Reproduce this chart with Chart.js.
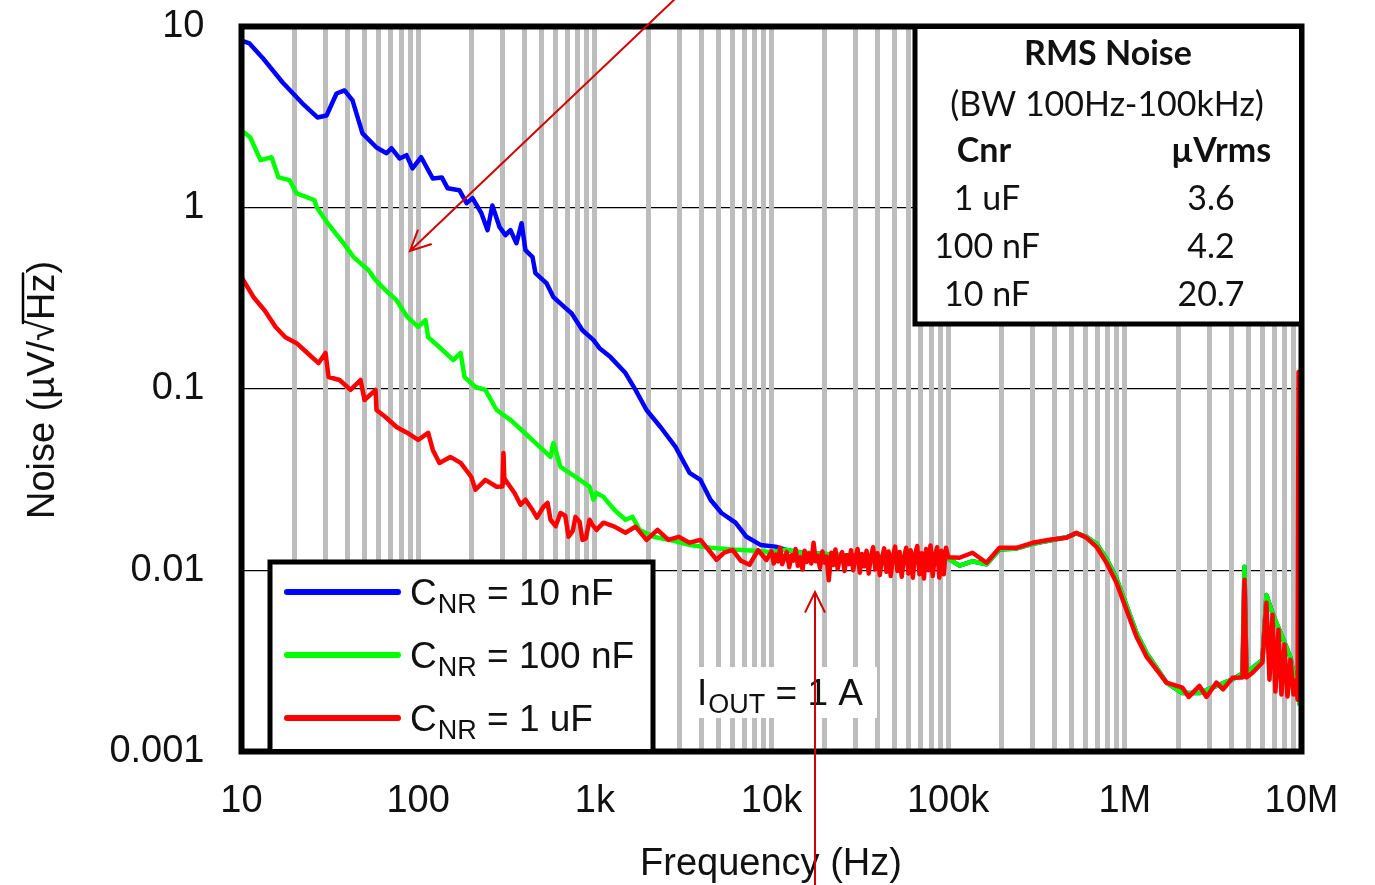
<!DOCTYPE html>
<html>
<head>
<meta charset="utf-8">
<script src="https://cdn.jsdelivr.net/npm/chart.js@4.4.1/dist/chart.umd.min.js"></script>
<style>
  html, body { margin: 0; padding: 0; background: #fff; }
  #wrap { width: 1375px; height: 885px; position: relative; }
</style>
</head>
<body>
<div id="wrap"><canvas id="noise-chart"></canvas></div>
<script>
// Axis ticks
const xTickValues = [10, 100, 1e3, 1e4, 1e5, 1e6, 1e7];
const xTickLabels = ['10', '100', '1k', '10k', '100k', '1M', '10M'];
const yTickValues = [0.001, 0.01, 0.1, 1, 10];
const yTickLabels = ['0.001', '0.01', '0.1', '1', '10'];

// C_NR = 10 nF (low frequency part)
const blueFreq = [10, 11.1, 13.1, 17.1, 22.1, 26.9, 30.3, 34.5, 38.3, 42.5, 48.4, 58.1, 66.2, 70.6, 78.4, 85.9, 92.9, 104, 121, 136,
    147, 171, 188, 203, 228, 247, 263, 289, 312, 333, 360, 385, 405, 444, 461, 532, 583, 673, 738, 851,
    983, 1063, 1226, 1491, 1699, 1961, 2353, 2862, 3435, 3963, 4516, 5212, 6256, 7220, 8663, 10530];
const blueNoise = [8.37, 8.06, 6.75, 4.91, 3.77, 3.15, 3.23, 4.27, 4.44, 3.91, 2.57, 2.15, 2.00, 2.13, 1.87, 1.95, 1.65, 1.90, 1.45, 1.47,
    1.28, 1.25, 1.06, 1.13, 0.933, 0.752, 1.03, 0.781, 0.706, 0.752, 0.637, 0.822, 0.583, 0.534, 0.436, 0.384, 0.321, 0.283, 0.262, 0.211,
    0.186, 0.168, 0.150, 0.1225, 0.0988, 0.0766, 0.0617, 0.0479, 0.0345, 0.0315, 0.0245, 0.0207, 0.0183, 0.0153, 0.0138, 0.0135];

// C_NR = 100 nF (low frequency part)
const greenFreq = [10, 11.2, 12.8, 14.8, 16.2, 18.7, 20.5, 23.6, 25.9, 26.6, 29.9, 34.0, 37.8, 43.1, 52.4, 57.4, 65.3, 75.4, 87.0, 100,
    110, 114, 132, 158, 174, 183, 211, 240, 278, 333, 385, 461, 561, 583, 639, 777, 933, 983, 1022, 1119,
    1292, 1491, 1634, 1790, 2148, 2646, 3435, 4500, 6000, 8000, 10000];
const greenNoise = [2.67, 2.45, 1.83, 1.90, 1.47, 1.42, 1.20, 1.14, 1.10, 1.01, 0.853, 0.724, 0.637, 0.534, 0.452, 0.399, 0.351, 0.309, 0.249, 0.220,
    0.240, 0.193, 0.170, 0.1445, 0.158, 0.1164, 0.1026, 0.0988, 0.0766, 0.0675, 0.0594, 0.0504, 0.0422, 0.0504, 0.0372, 0.0327, 0.0289, 0.0245, 0.0267, 0.0254,
    0.0215, 0.0190, 0.0197, 0.0167, 0.0153, 0.0147, 0.0138, 0.0133, 0.0130, 0.0128, 0.0126];

// 10 nF and 100 nF overlap above ~10 kHz
const sharedFreq = [12000, 15000, 20000, 30000, 50000, 80000, 100000, 116000, 137000, 165000,
    195000, 244000, 300000, 375000, 467000, 532000, 607000, 691000, 787000, 897000,
    1021000, 1164000, 1326000, 1511000, 1721000, 2120000, 2645000, 3301000, 4068000, 4635000,
    4755000, 4880000, 5280000, 6010000, 6330000, 6850000, 7410000, 8010000, 8660000, 9370000, 9800000];
const sharedNoise = [0.0130, 0.0125, 0.0123, 0.0120, 0.0118, 0.0117, 0.0116, 0.0106, 0.0112, 0.0108,
    0.0130, 0.0132, 0.0140, 0.0146, 0.0152, 0.0160, 0.0153, 0.0140, 0.0116, 0.0090,
    0.0064, 0.0045, 0.0035, 0.0029, 0.0024, 0.0021, 0.0021, 0.0023, 0.0025, 0.0027,
    0.01045, 0.0027, 0.0029, 0.0032, 0.0073, 0.0058, 0.0048, 0.0040, 0.0033, 0.0022, 0.0018];

// C_NR = 1 uF
const redLowFreq = [10, 11.7, 13.5, 15.6, 17.7, 20.5, 23.6, 27.3, 29.9, 31.1, 35.9, 41.4, 47.2, 49.7, 57.4, 58.1, 65.3, 75.4, 87.0, 100,
    114, 121, 132, 152, 174, 200, 211, 240, 278, 300, 304, 308, 312, 351, 380, 405, 444, 470, 512, 540,
    561, 600, 639, 680, 710, 750, 777, 820, 851, 890, 933, 970, 1022, 1119, 1292, 1491, 1699, 1961, 2263, 2612,
    2977, 3435, 3963, 4884, 5400, 6016, 6700, 7505, 8400, 9367];
const redLowNoise = [0.414, 0.321, 0.272, 0.220, 0.193, 0.179, 0.158, 0.139, 0.158, 0.1164, 0.1121, 0.0988, 0.1121, 0.0870, 0.0988, 0.0766, 0.0701, 0.0617, 0.0572, 0.0524,
    0.0572, 0.0461, 0.0391, 0.0422, 0.0391, 0.0327, 0.0278, 0.0315, 0.0289, 0.0290, 0.0444, 0.0305, 0.0315, 0.0267, 0.0230, 0.0245, 0.0215, 0.0195, 0.0224, 0.0235,
    0.0190, 0.0175, 0.0207, 0.0200, 0.0153, 0.0165, 0.0197, 0.0185, 0.0147, 0.0150, 0.0190, 0.0178, 0.0167, 0.0183, 0.0174, 0.0161, 0.0174, 0.0147, 0.0167, 0.0147,
    0.0153, 0.0142, 0.0147, 0.01143, 0.0125, 0.01297, 0.0113, 0.01072, 0.0129, 0.0114];
const redMidFreq = [10000, 10300, 10600, 10900, 11200, 11500, 11900, 12200, 12600, 13000,
    13300, 13700, 14100, 14500, 15000, 15400, 15800, 16300, 16800, 17300,
    17800, 18300, 18800, 19400, 20000, 20500, 21100, 21800, 22400, 23000,
    23700, 24400, 25100, 25900, 26600, 27400, 28200, 29000, 29900, 30700,
    31600, 32500, 33500, 34500, 35500, 36500, 37600, 38700, 39800, 41000,
    42200, 43400, 44700, 46000, 47300, 48700, 50100, 51600, 53100, 54600,
    56200, 57900, 59600, 61300, 63100, 64900, 66800, 68800, 70800, 72900,
    75000, 77200, 79400, 81800, 84100, 86600, 89100, 91700, 94400, 97200, 100000];
const redMidNoise = [0.0127, 0.0109, 0.0122, 0.0112, 0.0133, 0.0108, 0.0119, 0.0126, 0.0104, 0.0121,
    0.0113, 0.0131, 0.0106, 0.0118, 0.0101, 0.0128, 0.0111, 0.0124, 0.0109, 0.0142,
    0.0112, 0.0120, 0.0103, 0.0127, 0.0110, 0.0119, 0.0088, 0.0125, 0.0107, 0.0130,
    0.0102, 0.0117, 0.0126, 0.0099, 0.0121, 0.0108, 0.0129, 0.0100, 0.0118, 0.0131,
    0.0097, 0.0123, 0.0105, 0.0128, 0.0096, 0.0119, 0.0134, 0.0101, 0.0124, 0.0094,
    0.0116, 0.0132, 0.0098, 0.0127, 0.0093, 0.0120, 0.0135, 0.0099, 0.0126, 0.0092,
    0.0118, 0.0133, 0.0096, 0.0129, 0.0091, 0.0122, 0.0136, 0.0095, 0.0124, 0.0090,
    0.0131, 0.0100, 0.0137, 0.0093, 0.0121, 0.0134, 0.0091, 0.0128, 0.0095, 0.0133, 0.0118];
const redHighFreq = [115900, 137300, 164800, 195300, 243700, 300200, 374600, 467400, 532400, 606700, 691000, 787300, 896900,
    1021000, 1164000, 1326000, 1511000, 1721000, 2120000, 2300000, 2645000, 2900000, 3301000, 3600000, 4068000, 4635000, 4755000, 4880000,
    5280000, 6010000, 6330000, 6590000, 6850000, 7120000, 7410000, 7700000, 8010000, 8330000, 8660000, 9010000, 9370000, 9500000, 9620000, 9750000];
const redHighNoise = [0.01172, 0.01249, 0.0110, 0.0133, 0.0133, 0.01417, 0.01472, 0.0151, 0.0161, 0.0151, 0.01347, 0.0110, 0.00853,
    0.00606, 0.0043, 0.00334, 0.00283, 0.0024, 0.00225, 0.0020, 0.0023, 0.0020, 0.0024, 0.0022, 0.00255, 0.00256, 0.00886, 0.00256,
    0.00272, 0.0031, 0.00662, 0.00249, 0.00568, 0.00214, 0.0047, 0.00206, 0.00389, 0.00201, 0.00321, 0.00206, 0.00249, 0.00193, 0.124, 0.03];

// grid lines at 1..9 x each decade
const xGridValues = [];
for (let d = 10; d < 1e7; d *= 10) {
    for (let m = 1; m < 10; m++) xGridValues.push(m * d);
}
xGridValues.push(1e7);

function toPoints(freqs, values) {
    return freqs.map((f, i) => ({ x: f, y: values[i] }));
}

const bluePoints = toPoints(blueFreq.concat(sharedFreq), blueNoise.concat(sharedNoise));
const greenPoints = toPoints(greenFreq.concat(sharedFreq), greenNoise.concat(sharedNoise));
const redPoints = toPoints(redLowFreq.concat(redMidFreq, redHighFreq), redLowNoise.concat(redMidNoise, redHighNoise));

const RED_ARROW = '#d40000';
const SANS = '"Liberation Sans", Arial, sans-serif';
const BOX_FONT = 'Lato, "Open Sans", sans-serif';

function drawArrow(ctx, x1, y1, x2, y2) {
    const ang = Math.atan2(y1 - y2, x1 - x2);
    ctx.beginPath();
    ctx.moveTo(x1, y1);
    ctx.lineTo(x2, y2);
    ctx.moveTo(x2 + 22 * Math.cos(ang - 0.45), y2 + 22 * Math.sin(ang - 0.45));
    ctx.lineTo(x2, y2);
    ctx.lineTo(x2 + 22 * Math.cos(ang + 0.45), y2 + 22 * Math.sin(ang + 0.45));
    ctx.stroke();
}

// C + subscript + rest
function drawSubText(ctx, x, y, main, sub, rest, size, subSize) {
    ctx.textAlign = 'left';
    ctx.font = size + 'px ' + SANS;
    ctx.fillText(main, x, y);
    x += ctx.measureText(main).width + 1;
    ctx.font = subSize + 'px ' + SANS;
    ctx.fillText(sub, x, y + 8);
    x += ctx.measureText(sub).width;
    ctx.font = size + 'px ' + SANS;
    ctx.fillText(rest, x, y);
}

const overlay = {
    id: 'overlay',
    afterDraw(chart) {
        const ctx = chart.ctx;
        const a = chart.chartArea;
        ctx.save();

        // plot frame
        ctx.strokeStyle = '#000';
        ctx.lineWidth = 6;
        ctx.strokeRect(a.left, a.top, a.right - a.left, a.bottom - a.top);

        // RMS noise table
        ctx.fillStyle = '#fff';
        ctx.fillRect(915, a.top, a.right - 915, 324 - a.top);
        ctx.lineWidth = 5;
        ctx.strokeRect(915, a.top, a.right - 915, 324 - a.top);
        ctx.fillStyle = '#111';
        ctx.textAlign = 'center';
        ctx.font = 'bold 34px ' + BOX_FONT;
        ctx.fillText('RMS Noise', 1108, 65);
        ctx.font = '34px ' + BOX_FONT;
        ctx.fillText('(BW 100Hz-100kHz)', 1107, 116);
        ctx.font = 'bold 34px ' + BOX_FONT;
        ctx.fillText('Cnr', 984, 162);
        ctx.fillText('µVrms', 1221, 162);
        ctx.font = '34px ' + BOX_FONT;
        const rows = [['1 uF', '3.6'], ['100 nF', '4.2'], ['10 nF', '20.7']];
        rows.forEach((r, i) => {
            ctx.fillText(r[0], 987, 210 + i * 48);
            ctx.fillText(r[1], 1211, 210 + i * 48);
        });

        // legend
        ctx.fillStyle = '#fff';
        ctx.fillRect(270, 562, 383, a.bottom - 562);
        ctx.strokeStyle = '#000';
        ctx.lineWidth = 5;
        ctx.strokeRect(270, 562, 383, a.bottom - 562);
        const legendItems = [['#0000ff', ' = 10 nF'], ['#00ff00', ' = 100 nF'], ['#ff0000', ' = 1 uF']];
        legendItems.forEach((it, i) => {
            const y = 592 + i * 63;
            ctx.strokeStyle = it[0];
            ctx.lineWidth = 6;
            ctx.lineCap = 'round';
            ctx.beginPath();
            ctx.moveTo(287, y);
            ctx.lineTo(398, y);
            ctx.stroke();
            ctx.fillStyle = '#111';
            drawSubText(ctx, 410, y + 13, 'C', 'NR', it[1], 37, 27);
        });

        // output current label
        ctx.fillStyle = '#fff';
        ctx.fillRect(697, 667, 180, 51);
        ctx.fillStyle = '#111';
        drawSubText(ctx, 697, 705, 'I', 'OUT', ' = 1 A', 37, 27);

        // axis titles
        ctx.fillStyle = '#111';
        ctx.textAlign = 'center';
        ctx.font = '38px ' + SANS;
        ctx.fillText('Frequency (Hz)', 771, 875);
        ctx.save();
        ctx.translate(54, 390);
        ctx.rotate(-Math.PI / 2);
        const yTitle = 'Noise (µV/√Hz)';
        ctx.fillText(yTitle, 0, 0);
        const w = ctx.measureText(yTitle).width;
        const x0 = -w / 2 + ctx.measureText('Noise (µV/√').width - 3;
        const x1 = -w / 2 + ctx.measureText('Noise (µV/√Hz').width;
        ctx.strokeStyle = '#000';
        ctx.lineWidth = 2.5;
        ctx.beginPath();
        ctx.moveTo(x0, -31);
        ctx.lineTo(x1, -31);
        ctx.stroke();
        ctx.restore();

        // annotation arrows
        ctx.strokeStyle = RED_ARROW;
        ctx.lineWidth = 2;
        ctx.lineCap = 'round';
        drawArrow(ctx, 676, -2, 410, 251);
        drawArrow(ctx, 815, 890, 815, 592);

        ctx.restore();
    }
};

new Chart(document.getElementById('noise-chart'), {
    type: 'line',
    data: {
        datasets: [
            { label: 'CNR = 1 uF', data: redPoints, borderColor: '#ff0000' },
            { label: 'CNR = 100 nF', data: greenPoints, borderColor: '#00ff00' },
            { label: 'CNR = 10 nF', data: bluePoints, borderColor: '#0000ff' }
        ]
    },
    options: {
        responsive: true,
        maintainAspectRatio: false,
        animation: false,
        datasets: {
            line: { borderWidth: 4.5, pointRadius: 0, tension: 0, fill: false, borderJoinStyle: 'round' }
        },
        layout: { padding: { left: 0, top: 26.5, right: 73.5, bottom: 0 } },
        plugins: { legend: { display: false }, tooltip: { enabled: false } },
        scales: {
            y: {
                type: 'logarithmic',
                min: 0.001,
                max: 10,
                afterBuildTicks: (s) => { s.ticks = yTickValues.map(v => ({ value: v })); },
                afterFit: (s) => { s.width = 241.5; s.paddingTop = 0; s.paddingBottom = 0; },
                grid: { color: '#000', lineWidth: 1.3, drawTicks: false, z: -2 },
                border: { display: false },
                ticks: {
                    padding: 37,
                    color: '#111',
                    font: { family: SANS, size: 38 },
                    callback: (v) => {
                        const i = yTickValues.findIndex(t => Math.abs(t - v) / t < 1e-6);
                        return i >= 0 ? yTickLabels[i] : '';
                    }
                }
            },
            x: {
                type: 'logarithmic',
                min: 10,
                max: 1e7,
                afterBuildTicks: (s) => { s.ticks = xGridValues.map(v => ({ value: v })); },
                afterFit: (s) => { s.height = 133.5; s.paddingLeft = 0; s.paddingRight = 0; },
                grid: { color: '#bdbdbd', lineWidth: 5, drawTicks: false, z: -1 },
                border: { display: false },
                ticks: {
                    autoSkip: false,
                    maxRotation: 0,
                    padding: 27,
                    color: '#111',
                    font: { family: SANS, size: 38 },
                    callback: (v) => {
                        const i = xTickValues.findIndex(t => Math.abs(t - v) / t < 1e-6);
                        return i >= 0 ? xTickLabels[i] : '';
                    }
                }
            }
        }
    },
    plugins: [overlay]
});
</script>
</body>
</html>
